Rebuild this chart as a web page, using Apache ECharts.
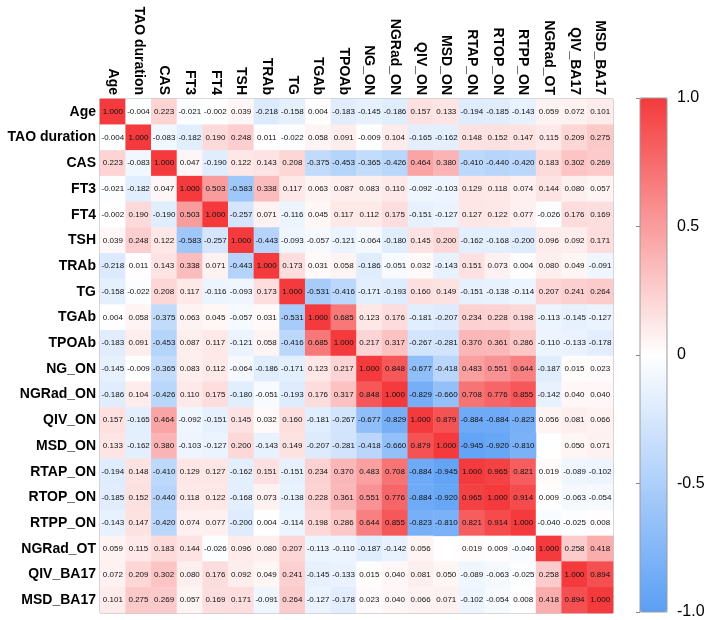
<!DOCTYPE html>
<html lang="en">
<head>
    <meta charset="UTF-8">
    <title>Correlation heatmap</title>
    <script src="https://cdn.jsdelivr.net/npm/echarts@6/dist/echarts.min.js"></script>
    <style>
        html, body { margin: 0; padding: 0; background: #fff; }
    </style>
</head>
<body>
    <div id="myChart" style="width: 709px; height: 620px;"></div>
    <script>
        // 变量名
        const labels = ['Age', 'TAO duration', 'CAS', 'FT3', 'FT4', 'TSH', 'TRAb', 'TG', 'TGAb', 'TPOAb',
            'NG_ON', 'NGRad_ON', 'QIV_ON', 'MSD_ON', 'RTAP_ON', 'RTOP_ON', 'RTPP_ON', 'NGRad_OT', 'QIV_BA17', 'MSD_BA17'];

        // 相关系数矩阵 (null = 空白格)
        const rowAge      = [1.000, -0.004, 0.223, -0.021, -0.002, 0.039, -0.218, -0.158, 0.004, -0.183, -0.145, -0.186, 0.157, 0.133, -0.194, -0.185, -0.143, 0.059, 0.072, 0.101];
        const rowTAO      = [-0.004, 1.000, -0.083, -0.182, 0.190, 0.248, 0.011, -0.022, 0.058, 0.091, -0.009, 0.104, -0.165, -0.162, 0.148, 0.152, 0.147, 0.115, 0.209, 0.275];
        const rowCAS      = [0.223, -0.083, 1.000, 0.047, -0.190, 0.122, 0.143, 0.208, -0.375, -0.453, -0.365, -0.426, 0.464, 0.380, -0.410, -0.440, -0.420, 0.183, 0.302, 0.269];
        const rowFT3      = [-0.021, -0.182, 0.047, 1.000, 0.503, -0.583, 0.338, 0.117, 0.063, 0.087, 0.083, 0.110, -0.092, -0.103, 0.129, 0.118, 0.074, 0.144, 0.080, 0.057];
        const rowFT4      = [-0.002, 0.190, -0.190, 0.503, 1.000, -0.257, 0.071, -0.116, 0.045, 0.117, 0.112, 0.175, -0.151, -0.127, 0.127, 0.122, 0.077, -0.026, 0.176, 0.169];
        const rowTSH      = [0.039, 0.248, 0.122, -0.583, -0.257, 1.000, -0.443, -0.093, -0.057, -0.121, -0.064, -0.180, 0.145, 0.200, -0.162, -0.168, -0.200, 0.096, 0.092, 0.171];
        const rowTRAb     = [-0.218, 0.011, 0.143, 0.338, 0.071, -0.443, 1.000, 0.173, 0.031, 0.058, -0.186, -0.051, 0.032, -0.143, 0.151, 0.073, 0.004, 0.080, 0.049, -0.091];
        const rowTG       = [-0.158, -0.022, 0.208, 0.117, -0.116, -0.093, 0.173, 1.000, -0.531, -0.416, -0.171, -0.193, 0.160, 0.149, -0.151, -0.138, -0.114, 0.207, 0.241, 0.264];
        const rowTGAb     = [0.004, 0.058, -0.375, 0.063, 0.045, -0.057, 0.031, -0.531, 1.000, 0.685, 0.123, 0.176, -0.181, -0.207, 0.234, 0.228, 0.198, -0.113, -0.145, -0.127];
        const rowTPOAb    = [-0.183, 0.091, -0.453, 0.087, 0.117, -0.121, 0.058, -0.416, 0.685, 1.000, 0.217, 0.317, -0.267, -0.281, 0.370, 0.361, 0.286, -0.110, -0.133, -0.178];
        const rowNG_ON    = [-0.145, -0.009, -0.365, 0.083, 0.112, -0.064, -0.186, -0.171, 0.123, 0.217, 1.000, 0.848, -0.677, -0.418, 0.483, 0.551, 0.644, -0.187, 0.015, 0.023];
        const rowNGRad_ON = [-0.186, 0.104, -0.426, 0.110, 0.175, -0.180, -0.051, -0.193, 0.176, 0.317, 0.848, 1.000, -0.829, -0.660, 0.708, 0.776, 0.855, -0.142, 0.040, 0.040];
        const rowQIV_ON   = [0.157, -0.165, 0.464, -0.092, -0.151, 0.145, 0.032, 0.160, -0.181, -0.267, -0.677, -0.829, 1.000, 0.879, -0.884, -0.884, -0.823, 0.056, 0.081, 0.066];
        const rowMSD_ON   = [0.133, -0.162, 0.380, -0.103, -0.127, 0.200, -0.143, 0.149, -0.207, -0.281, -0.418, -0.660, 0.879, 1.000, -0.945, -0.920, -0.810, null, 0.050, 0.071];
        const rowRTAP_ON  = [-0.194, 0.148, -0.410, 0.129, 0.127, -0.162, 0.151, -0.151, 0.234, 0.370, 0.483, 0.708, -0.884, -0.945, 1.000, 0.965, 0.821, 0.019, -0.089, -0.102];
        const rowRTOP_ON  = [-0.185, 0.152, -0.440, 0.118, 0.122, -0.168, 0.073, -0.138, 0.228, 0.361, 0.551, 0.776, -0.884, -0.920, 0.965, 1.000, 0.914, 0.009, -0.063, -0.054];
        const rowRTPP_ON  = [-0.143, 0.147, -0.420, 0.074, 0.077, -0.200, 0.004, -0.114, 0.198, 0.286, 0.644, 0.855, -0.823, -0.810, 0.821, 0.914, 1.000, -0.040, -0.025, 0.008];
        const rowNGRad_OT = [0.059, 0.115, 0.183, 0.144, -0.026, 0.096, 0.080, 0.207, -0.113, -0.110, -0.187, -0.142, 0.056, null, 0.019, 0.009, -0.040, 1.000, 0.258, 0.418];
        const rowQIV_BA17 = [0.072, 0.209, 0.302, 0.080, 0.176, 0.092, 0.049, 0.241, -0.145, -0.133, 0.015, 0.040, 0.081, 0.050, -0.089, -0.063, -0.025, 0.258, 1.000, 0.894];
        const rowMSD_BA17 = [0.101, 0.275, 0.269, 0.057, 0.169, 0.171, -0.091, 0.264, -0.127, -0.178, 0.023, 0.040, 0.066, 0.071, -0.102, -0.054, 0.008, 0.418, 0.894, 1.000];

        const matrix = [rowAge, rowTAO, rowCAS, rowFT3, rowFT4, rowTSH, rowTRAb, rowTG, rowTGAb, rowTPOAb,
            rowNG_ON, rowNGRad_ON, rowQIV_ON, rowMSD_ON, rowRTAP_ON, rowRTOP_ON, rowRTPP_ON, rowNGRad_OT, rowQIV_BA17, rowMSD_BA17];

        // 色标刻度
        const barTicks = [-1, -0.5, 0, 0.5, 1];

        // 转成 heatmap 需要的 [x, y, value]
        const heatData = [];
        matrix.forEach(function (row, y) {
            row.forEach(function (v, x) {
                heatData.push([x, y, v === null ? '-' : v]);
            });
        });

        const font = 'Arial, "Liberation Sans", sans-serif';
        const myChart = echarts.init(document.getElementById('myChart'));

        const option = {
            backgroundColor: '#fff',
            animation: false,
            grid: [
                { left: 100, top: 99, width: 513, height: 514, show: true, borderColor: '#9a9a9a', borderWidth: 1, backgroundColor: 'transparent' },
                { left: 640, top: 98, width: 27, height: 514, show: true, borderColor: '#9a9a9a', borderWidth: 1, backgroundColor: 'transparent', z: 10 }
            ],
            xAxis: [
                {
                    type: 'category', gridIndex: 0, data: labels, position: 'top',
                    axisLine: { show: false }, axisTick: { show: false }, splitArea: { show: false },
                    axisLabel: { rotate: 90, interval: 0, margin: 4, color: '#000', fontWeight: 'bold', fontSize: 14, fontFamily: font }
                },
                { type: 'value', gridIndex: 1, show: false }
            ],
            yAxis: [
                {
                    type: 'category', gridIndex: 0, data: labels, inverse: true,
                    axisLine: { show: false }, axisTick: { show: false }, splitArea: { show: false },
                    axisLabel: { interval: 0, margin: 4, color: '#000', fontWeight: 'bold', fontSize: 14, fontFamily: font }
                },
                {
                    type: 'value', gridIndex: 1, position: 'right', min: barTicks[0], max: barTicks[barTicks.length - 1], interval: 0.5,
                    axisLine: { show: false }, splitLine: { show: false },
                    axisTick: { show: true, inside: true, length: 4, lineStyle: { color: '#888' } },
                    axisLabel: {
                        margin: 10, color: '#000', fontSize: 16, fontFamily: font,
                        formatter: function (v) { return v === 0 ? '0' : v.toFixed(1); }
                    }
                }
            ],
            visualMap: {
                type: 'continuous', min: -1, max: 1, seriesIndex: 0,
                calculable: false, showLabel: false, text: null,
                left: 640, top: 98, itemWidth: 27, itemHeight: 514, padding: 0,
                inRange: { color: ['#5b9ff5', '#ffffff', '#f43a3c'] }
            },
            series: [
                {
                    type: 'heatmap', xAxisIndex: 0, yAxisIndex: 0, data: heatData,
                    itemStyle: { borderWidth: 0 },
                    label: {
                        show: true, color: '#111', fontSize: 8, fontFamily: font,
                        formatter: function (p) { return p.value[2].toFixed(3); }
                    },
                    emphasis: { disabled: true }
                }
            ]
        };
        myChart.setOption(option);
    </script>
</body>
</html>
